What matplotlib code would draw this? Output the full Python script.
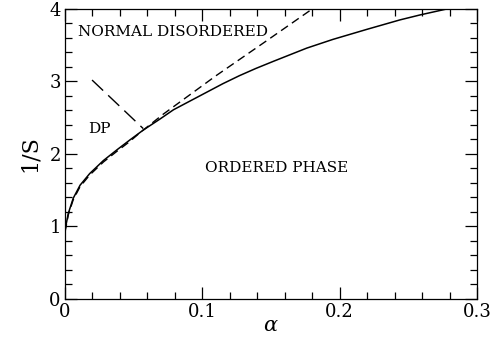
import matplotlib
matplotlib.use("Agg")
import matplotlib.pyplot as plt
from matplotlib.ticker import MultipleLocator

# phase boundary (solid)
alpha_solid = [0, 0.0024, 0.006, 0.011, 0.018, 0.028, 0.038, 0.047, 0.057, 0.069,
               0.079, 0.091, 0.103, 0.115, 0.127, 0.139, 0.152, 0.164, 0.176,
               0.195, 0.220, 0.244, 0.259, 0.278]
invS_solid = [0.95, 1.18, 1.39, 1.57, 1.73, 1.91, 2.06, 2.19, 2.33, 2.48,
              2.61, 2.73, 2.85, 2.97, 3.08, 3.18, 3.28, 3.37, 3.46,
              3.58, 3.72, 3.85, 3.92, 4.0]

# short dashed boundary
alpha_dash = [0, 0.0024, 0.006, 0.011, 0.018, 0.028, 0.038, 0.047, 0.055, 0.0716,
              0.110, 0.1444, 0.18]
invS_dash = [0.92, 1.16, 1.37, 1.55, 1.71, 1.89, 2.04, 2.17, 2.30, 2.55,
             3.08, 3.53, 4.0]

# long dashed DP boundary
alpha_dp = [0.0197, 0.057]
invS_dp = [3.02, 2.35]

plt.rcParams['font.family'] = ['DejaVu Serif']
plt.rcParams['mathtext.fontset'] = 'dejavuserif'
plt.rcParams['lines.scale_dashes'] = False

fig = plt.figure(figsize=(4.95, 3.39), dpi=100)
ax = fig.add_axes([0.1313, 0.118, 0.8323, 0.8555])

ax.plot(alpha_solid, invS_solid, color='black', lw=1.1)
ax.plot(alpha_dash, invS_dash, color='black', lw=1.0, dashes=(6, 3.5))
ax.plot(alpha_dp, invS_dp, color='black', lw=1.0, dashes=(11, 5))

ax.text(0.0095, 3.68, 'NORMAL DISORDERED', fontsize=11, va='center')
ax.text(0.0167, 2.34, 'DP', fontsize=11, va='center')
ax.text(0.102, 1.81, 'ORDERED PHASE', fontsize=11, va='center')

ax.set_xlim(0, 0.3)
ax.set_ylim(0, 4)
ax.xaxis.set_minor_locator(MultipleLocator(0.02))
ax.yaxis.set_major_locator(MultipleLocator(1))
ax.yaxis.set_minor_locator(MultipleLocator(0.2))
ax.set_xticks([0, 0.1, 0.2, 0.3])
ax.set_xticklabels(['0', '0.1', '0.2', '0.3'], fontsize=13)
ax.tick_params(axis='y', labelsize=13)
ax.tick_params(which='both', direction='in', top=True, right=True, width=0.9)
ax.tick_params(which='major', length=8.5, pad=3)
ax.tick_params(which='minor', length=5)

ax.set_xlabel(r'$\alpha$', fontsize=15)
ax.xaxis.set_label_coords(0.5, -0.058)
ax.set_ylabel('1/S', fontsize=16, labelpad=6)

for s in ax.spines.values():
    s.set_linewidth(0.9)

fig.savefig('out.png', dpi=100)
